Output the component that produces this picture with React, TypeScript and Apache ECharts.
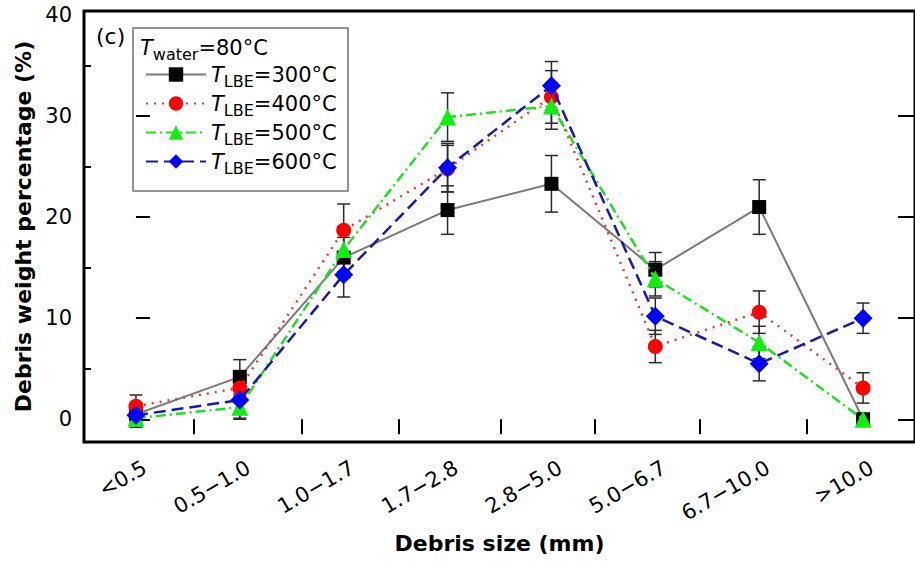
import React, { useEffect, useRef } from "react";
import * as echarts from "echarts";

const categories = ["<0.5", "0.5\u22121.0", "1.0\u22121.7", "1.7\u22122.8", "2.8\u22125.0", "5.0\u22126.7", "6.7\u221210.0", ">10.0"];
const temps = ["300", "400", "500", "600"];
const t300 = [0.5, 4.2, 16.0, 20.7, 23.3, 14.8, 21.0, 0.0];
const t300Err = [0.8, 1.7, 2.0, 2.4, 2.8, 1.7, 2.7, 0];
const t400 = [1.3, 3.1, 18.7, 24.8, 31.9, 7.2, 10.6, 3.1];
const t400Err = [1.1, 1.2, 2.6, 2.3, 2.6, 1.6, 2.1, 1.5];
const t500 = [0.1, 1.2, 16.8, 29.9, 31.0, 13.9, 7.6, 0.0];
const t500Err = [0.9, 1.1, 2.2, 2.4, 2.3, 1.7, 1.6, 0];
const t600 = [0.4, 1.9, 14.3, 24.9, 33.0, 10.2, 5.5, 10.0];
const t600Err = [1.0, 1.9, 2.2, 2.4, 2.4, 1.8, 1.7, 1.5];
const yLabels = [0, 10, 20, 30, 40];
const yMajorTicks = [0, 10, 20, 30];
const yMinorTicks = [5, 15, 25, 35];
const xTickPositions = [-0.5, 0.555, 1.6, 2.53, 3.51, 4.42, 5.43, 6.46];

const FONT = "DejaVu Sans";
const Y_MIN = -2.25;
const Y_MAX = 40.4;

const seriesDefs = [
  { values: t300, errs: t300Err, line: "#7a7a7a", mark: "#000000", symbol: "rect", size: 14, type: "solid" as any, width: 2 },
  { values: t400, errs: t400Err, line: "#e03a3a", mark: "#ff0000", symbol: "circle", size: 15, type: [2, 6] as any, width: 2.5 },
  { values: t500, errs: t500Err, line: "#22dd22", mark: "#11ee11", symbol: "triangle", size: 17, type: [10, 4, 2, 4] as any, width: 2.5 },
  { values: t600, errs: t600Err, line: "#1a1aa8", mark: "#0000ff", symbol: "diamond", size: 19, type: [12, 6] as any, width: 2.5 },
];

const richStyles = {
  t: { fontFamily: FONT, fontStyle: "italic", fontSize: 21, lineHeight: 29, color: "#000" },
  s: { fontFamily: FONT, fontSize: 16, lineHeight: 16, verticalAlign: "bottom", color: "#000" },
  v: { fontFamily: FONT, fontSize: 21, lineHeight: 29, color: "#000" },
};

export default function App() {
  const ref = useRef<HTMLDivElement>(null);
  useEffect(() => {
    if (!ref.current) return;
    const chart = echarts.init(ref.current, null, { renderer: "svg" });

    const lineSeries = seriesDefs.map((d, k) => ({
      name: `${temps[k]}\u00b0C`,
      type: "line",
      xAxisIndex: 0,
      yAxisIndex: 0,
      data: d.values,
      symbol: d.symbol,
      symbolSize: d.size,
      showSymbol: true,
      z: 3 + k,
      lineStyle: { color: d.line, width: d.width, type: d.type },
      itemStyle: { color: d.mark },
      emphasis: { disabled: true },
    }));

    const errSeries = seriesDefs.map((d, k) => ({
      name: `err${k}`,
      type: "custom",
      xAxisIndex: 0,
      yAxisIndex: 0,
      z: 2,
      silent: true,
      data: d.values.map((v, i) => [i, v, d.errs[i]]),
      renderItem: (params: any, api: any) => {
        const i = api.value(0);
        const v = api.value(1);
        const e = api.value(2);
        if (!e) return null;
        const top = api.coord([i, v + e]);
        const bot = api.coord([i, v - e]);
        const w = 6.5;
        const st = { stroke: "#2a2a2a", lineWidth: 1.5 };
        return {
          type: "group",
          children: [
            { type: "line", shape: { x1: top[0], y1: top[1], x2: bot[0], y2: bot[1] }, style: st },
            { type: "line", shape: { x1: top[0] - w, y1: top[1], x2: top[0] + w, y2: top[1] }, style: st },
            { type: "line", shape: { x1: bot[0] - w, y1: bot[1], x2: bot[0] + w, y2: bot[1] }, style: st },
          ],
        };
      },
    }));

    const option: any = {
      animation: false,
      backgroundColor: "#ffffff",
      grid: { left: 84, right: -11, top: 11, bottom: 119, show: true, borderColor: "#000", borderWidth: 3, backgroundColor: "transparent" },
      xAxis: [
        {
          type: "category",
          data: categories,
          boundaryGap: true,
          show: false,
        },
        {
          type: "value",
          min: -0.5,
          max: 7.5,
          position: "bottom",
          axisLine: { show: false },
          splitLine: { show: false },
          axisTick: { show: true, inside: false, length: 15, customValues: xTickPositions, lineStyle: { color: "#000", width: 2 } },
          axisLabel: {
            customValues: categories.map((_, i) => i + 0.085),
            formatter: (v: number) => categories[Math.round(v - 0.085)] ?? "",
            rotate: 30,
            margin: 24,
            fontSize: 21,
            fontFamily: FONT,
            color: "#000",
          },
          name: "Debris size (mm)",
          nameLocation: "middle",
          nameGap: 90,
          nameTextStyle: { fontFamily: FONT, fontWeight: "bold", fontSize: 22, color: "#000" },
        },
      ],
      yAxis: [
        {
          type: "value",
          min: Y_MIN,
          max: Y_MAX,
          position: "left",
          axisLine: { show: false },
          splitLine: { show: false },
          axisTick: { show: true, inside: true, length: 14, customValues: yMajorTicks, lineStyle: { color: "#000", width: 2 } },
          axisLabel: { customValues: yLabels, fontSize: 21, fontFamily: FONT, color: "#000", margin: 12 },
          name: "Debris weight percentage (%)",
          nameLocation: "middle",
          nameGap: 41,
          nameRotate: 90,
          nameTextStyle: { fontFamily: FONT, fontWeight: "bold", fontSize: 22, color: "#000" },
        },
        {
          type: "value",
          min: Y_MIN,
          max: Y_MAX,
          position: "left",
          axisLine: { show: false },
          splitLine: { show: false },
          axisTick: { show: true, inside: true, length: 7, customValues: yMinorTicks, lineStyle: { color: "#000", width: 2 } },
          axisLabel: { show: false },
        },
        {
          type: "value",
          min: Y_MIN,
          max: Y_MAX,
          position: "right",
          axisLine: { show: false },
          splitLine: { show: false },
          axisTick: { show: true, inside: true, length: 17, customValues: yMajorTicks, lineStyle: { color: "#000", width: 2 } },
          axisLabel: { show: false },
        },
      ],
      legend: {
        orient: "vertical",
        left: 145,
        top: 64,
        padding: 0,
        itemWidth: 60,
        itemHeight: 18,
        itemGap: 4,
        data: temps.map((t) => `${t}\u00b0C`),
        formatter: (name: string) => `{t|T}{s|LBE}{v|=${name}}`,
        textStyle: { fontFamily: FONT, fontSize: 21, color: "#000", rich: richStyles },
      },
      graphic: [
        {
          type: "rect",
          shape: { x: 133, y: 28, width: 215, height: 163 },
          style: { fill: "none", stroke: "#707070", lineWidth: 1.5 },
          z: 10,
        },
        {
          type: "text",
          x: 140,
          y: 48,
          style: { text: "{t|T}{s|water}{v|=80\u00b0C}", rich: richStyles, verticalAlign: "middle", fill: "#000" },
          z: 10,
        },
        {
          type: "text",
          x: 96,
          y: 36,
          style: { text: "(c)", fontFamily: FONT, fontSize: 22, fill: "#000", verticalAlign: "middle" },
          z: 10,
        },
      ],
      series: [...errSeries, ...lineSeries],
    };
    chart.setOption(option);
    return () => chart.dispose();
  }, []);

  return (
    <div
      ref={ref}
      style={{ position: "absolute", left: 0, top: 0, width: 915, height: 561, background: "#fff" }}
    />
  );
}
